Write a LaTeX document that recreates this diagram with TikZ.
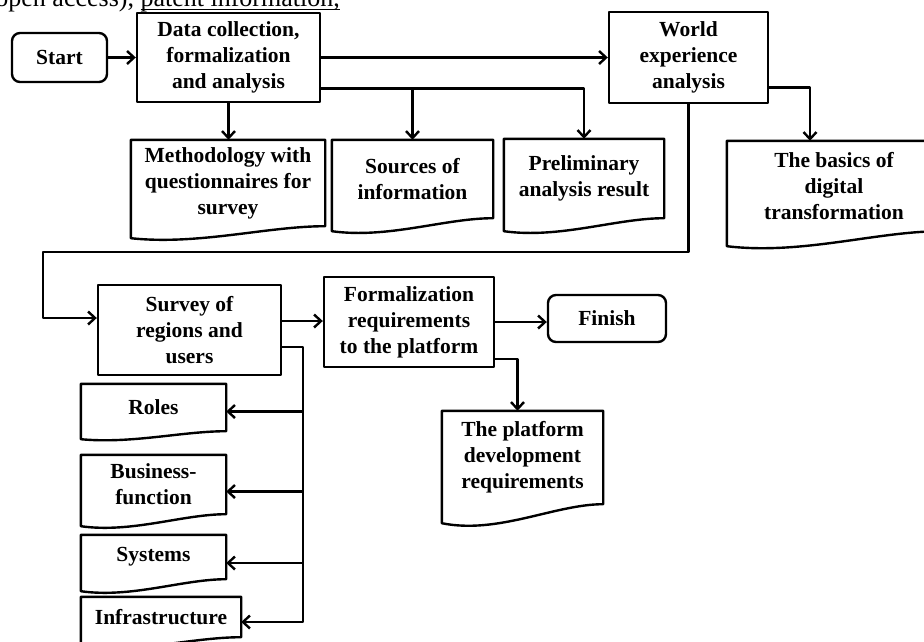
\documentclass[tikz,border=0pt]{standalone}
\usepackage{fontspec}
\setmainfont{Liberation Serif}
\usetikzlibrary{arrows.meta,calc}
% document symbol: node covers the part above the wave, #2 = drop of the left corner
\newcommand\docshape[2]{%
  \draw (#1.north west) -- (#1.north east) -- (#1.south east)
    .. controls ($(#1.south east)!0.3!(#1.south west)$)
    and ($(#1.south east)!0.65!(#1.south west)+(0pt,-1.6*#2pt)$) .. ([yshift=-#2pt]#1.south west) -- cycle;}
% link underline close to the baseline
\newcommand\pagelink[1]{\setbox0\hbox{#1}\rlap{\rule[-4pt]{\wd0}{1.2pt}}\box0}
\begin{document}
\begin{tikzpicture}[x=1pt, y=-1pt, >={Straight Barb[length=7pt,width=13pt]}, line width=2.4pt, line join=round,
    font=\bfseries\fontsize{21.5}{26}\selectfont,
    box/.style={draw, align=center, inner sep=0pt},
    term/.style={box, rounded corners=8pt},
    doc/.style={align=center, inner sep=0pt}]
  \useasboundingbox (0,0) rectangle (924,641);
  \clip (0,0) rectangle (924,641);
  \node[font=\mdseries\fontsize{26}{30}\selectfont, anchor=base east, inner sep=0pt] (pagetext) at (341,6) {(open access), \pagelink{patent information,}};
  % first row
  \node[term, minimum width=95pt, minimum height=49pt] (start) at (59.5,57.5) {Start};
  \node[box, minimum width=183pt, minimum height=89pt] (data) at (228.5,57.5) {Data collection,\\formalization\\and analysis};
  \node[box, minimum width=159pt, minimum height=91pt] (world) at (688.5,57.5) {World\\experience\\analysis};
  % documents under the first row
  \node[doc, minimum width=192pt, minimum height=84pt] (meth) at (228,183) {Methodology with\\questionnaires for\\survey};
  \node[doc, minimum width=159pt, minimum height=76pt] (src) at (412.5,179) {Sources of\\information};
  \node[doc, minimum width=158pt, minimum height=77pt] (prelim) at (584,178.5) {Preliminary\\analysis result};
  \node[doc, minimum width=212pt, minimum height=88pt] (basics) at (834,186) {The basics of\\digital\\transformation};
  \docshape{meth}{12} \docshape{src}{13} \docshape{prelim}{13} \docshape{basics}{15}
  % second row
  \node[box, minimum width=183pt, minimum height=90pt] (survey) at (189.5,330) {Survey of\\regions and\\users};
  \node[box, minimum width=170pt, minimum height=90pt] (formal) at (409,322) {Formalization\\requirements\\to the platform};
  \node[term, minimum width=118pt, minimum height=47pt] (finish) at (607,318.5) {Finish};
  \node[doc, minimum width=159pt, minimum height=91pt] (platform) at (522.5,457.5) {The platform\\development\\requirements};
  \docshape{platform}{19}
  % survey results
  \node[doc, minimum width=143pt, minimum height=45pt] (roles) at (153.5,407.5) {Roles};
  \node[doc, minimum width=143pt, minimum height=57pt] (business) at (153.5,484.5) {Business-\\function};
  \node[doc, minimum width=143pt, minimum height=42pt] (systems) at (153.5,557) {Systems};
  \node[doc, minimum width=158pt, minimum height=38pt] (infra) at (161,617) {Infrastructure};
  \docshape{roles}{8} \docshape{business}{12} \docshape{systems}{12} \docshape{infra}{10}
  % connectors
  \coordinate (loop) at (43,252);
  \coordinate (trunk) at (303,0);
  \draw[->] (start) -- (data);
  \draw[->] (data) -- (world);
  \draw[->] (data.south) -- (data.south |- meth.north);
  \draw[->] ([yshift=-31pt]data.east) -| (src.north);
  \draw[->] ([yshift=-31pt]data.east) -| (prelim.north);
  \draw[->] ([yshift=-30pt]world.east) -| ([xshift=-24pt]basics.north);
  \draw[->] (world.south) |- (loop) |- ([yshift=12pt]survey.west);
  \draw[->] ([yshift=9pt]survey.east) -- ([yshift=9pt]survey.east -| formal.west);
  \draw[->] (formal.east) -- (formal.east -| finish.west);
  \draw[->] ([yshift=-37pt]formal.east) -| ([xshift=-5pt]platform.north);
  \draw[->] ([yshift=-17pt]survey.east) -| ([yshift=-5pt]infra.east -| trunk) -- ([yshift=-5pt]infra.east);
  \foreach \n/\d in {roles/4,business/7,systems/6}
    \draw[->] ([yshift=-\d pt]\n.east -| trunk) -- ([yshift=-\d pt]\n.east);
\end{tikzpicture}
\end{document}
